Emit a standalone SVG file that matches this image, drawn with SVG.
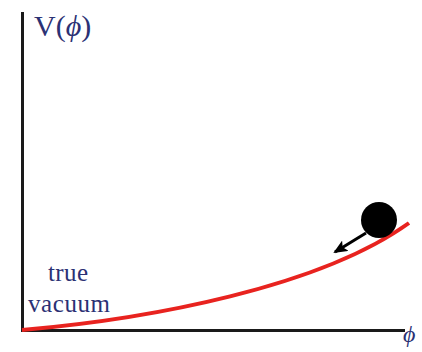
<svg xmlns="http://www.w3.org/2000/svg" width="422" height="352" viewBox="0 0 422 352">
<defs>
<style>
.lbl{font-family:"Liberation Serif","Times New Roman",serif;fill:#2b3174}
.axis{stroke:#1a1a1a;stroke-width:3;fill:none}
</style>
<marker id="ah" markerWidth="14" markerHeight="12" refX="12" refY="6" orient="auto" markerUnits="userSpaceOnUse">
<path d="M0,0 L14,6 L0,12 L3,6 Z" fill="#000"/>
</marker>
</defs>
<g id="axes">
<line class="axis" x1="22.5" y1="12" x2="22.5" y2="331"/>
<line class="axis" x1="21" y1="330.5" x2="405" y2="330.5"/>
</g>
<g id="labels">
<text class="lbl" x="34" y="36" font-size="30">V(<tspan font-style="italic">ϕ</tspan>)</text>
<text class="lbl" x="48" y="281" font-size="25" textLength="40">true</text>
<text class="lbl" x="28" y="312" font-size="25" textLength="82">vacuum</text>
<text class="lbl" x="403" y="342" font-size="24" font-style="italic">ϕ</text>
</g>
<g id="connectors">
<path d="M22,330 C150,319 320,287 409,223" stroke="#e8231f" stroke-width="4" fill="none"/>
<line x1="366" y1="233" x2="335" y2="252" stroke="#000" stroke-width="3" marker-end="url(#ah)"/>
</g>
<g id="ball">
<circle cx="379" cy="220" r="18" fill="#000"/>
</g>
</svg>
